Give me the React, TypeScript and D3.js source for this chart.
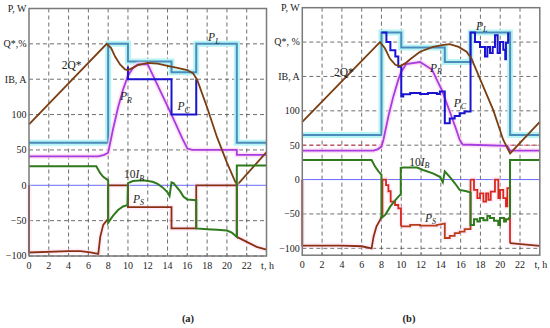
import React from 'react';
import * as d3 from 'd3';

type P = [number, number];

// ---------- shared axis data ----------
const HOURS = [0, 2, 4, 6, 8, 10, 12, 14, 16, 18, 20, 22];
const GRID_HOURS = [2, 4, 6, 8, 10, 12, 14, 16, 18, 20, 22];
const Y_GRID = [-100, -50, 0, 50, 100, 150, 200];
const Y_LABEL_VALUES = [-100, -50, 0, 50, 100, 150, 200, 250];
const Y_LABELS_A = ['−100', '−50', '0', '50', '100', 'IB, A', 'Q*,%', 'P, W'];
const Y_LABELS_B = ['−100', '−50', '0', '50', '100', 'IB, A', 'Q*, %', 'P, W'];

// ---------- panel (a) ----------
const PL_A: P[] = [[0, 60], [8, 60], [8, 200], [10, 200], [10, 175], [14.4, 175], [14.4, 160], [16.9, 160], [16.9, 200], [21, 200], [21, 60], [24, 60]];
const PC_A: P[] = [[10, 168], [10, 150], [14.4, 150], [14.4, 100], [16.9, 100], [16.9, 150]];
const PR_A: P[] = [[0, 41], [7, 41], [7.6, 43], [8, 46], [8.5, 80], [9, 110], [9.5, 135], [10, 155], [10.5, 166], [11, 171], [12, 171], [14.4, 100], [15.5, 66], [16, 52], [16.5, 50], [21, 50], [21, 43], [24, 43]];
const Q_A: P[] = [[0, 86], [7.85, 200], [8.3, 194], [8.7, 182], [9.2, 171], [9.7, 164], [10, 163], [10.5, 166], [11, 170], [12, 173], [13, 172], [14, 169], [15, 166], [16, 163], [16.6, 158], [17, 149], [18, 110], [19, 68], [20, 32], [21, 0], [24, 47]];
const IB_A: P[] = [[0, 27], [6.8, 27], [7, 22], [7.2, 17], [7.5, 12], [7.9, 8], [8, 7], [8, -53], [8.5, -43], [9, -35], [9.5, -30], [9.95, -28], [10, 3], [10.5, 6], [11.5, 7], [12.5, 5], [13, 2], [13.5, -3], [14, -10], [14.2, -15], [14.4, 4], [14.6, 3], [15.3, -9], [15.6, -16], [16, -20], [16.9, -21], [16.9, -61], [18, -62], [19, -63], [20, -64], [20.5, -67], [21, -73], [21, 28], [24, 28]];
const PS_A: P[] = [[0, 0], [0, -95], [4, -93], [5.2, -93], [6.2, -95], [7, -97], [7.2, -73], [7.5, -56], [7.9, -49], [8, -48], [8, 0], [10, 0], [10, -31], [14.4, -31], [14.4, -61], [16.9, -61], [16.9, 0], [21, 0], [21, -73], [22, -80], [23, -87], [24, -91]];

// ---------- panel (b) ----------
const PL_B: P[] = [[0, 65], [8, 65], [8, 214], [10, 214], [10, 192], [14.4, 192], [14.4, 171], [17, 171], [17, 214], [21, 214], [21, 65], [24, 65]];
const PC_B: P[] = [[8, 214], [8.5, 214], [8.5, 200], [8.9, 200], [8.9, 188], [9.4, 188], [9.4, 179], [9.7, 179], [9.7, 164], [10, 164], [10, 121], [10.2, 121], [10.2, 124], [10.9, 124], [10.9, 126], [11.9, 126], [11.9, 124.6], [12.7, 124.6], [12.7, 126], [13.6, 126], [13.6, 124.6], [13.9, 124.6], [13.9, 128], [14.4, 128], [14.4, 82], [14.9, 82], [14.9, 89], [15.4, 89], [15.4, 92.6], [15.9, 92.6], [15.9, 96.5], [16.4, 96.5], [16.4, 99], [17, 99], [17, 214], [17.45, 214], [17.45, 200], [17.96, 200], [17.96, 193], [18.46, 193], [18.46, 179], [18.7, 179], [18.7, 193], [18.97, 193], [18.97, 184], [19.24, 184], [19.24, 193], [19.47, 193], [19.47, 210], [19.74, 210], [19.74, 184], [19.98, 184], [19.98, 200], [20.31, 200], [20.31, 189], [20.51, 189], [20.51, 175], [20.58, 175], [20.58, 199], [20.8, 199], [20.8, 214]];
const PR_B: P[] = [[0, 42], [7.2, 42], [7.6, 44], [8, 48], [8.2, 58], [8.7, 92], [9.2, 121], [9.7, 145], [10, 157], [10.5, 168], [11.9, 171], [13.1, 160], [14.1, 130], [15, 95], [15.5, 75], [15.9, 58], [16.2, 51], [20.7, 49], [21, 42], [24, 42]];
const Q_B: P[] = [[0, 84], [7.85, 200], [8.35, 191], [8.85, 176], [9.4, 167], [9.9, 165], [10.4, 169], [10.9, 175], [11.9, 186], [13.2, 193], [14.3, 196], [14.9, 197], [15.8, 193], [16.6, 186], [17.1, 176], [18, 145], [19.3, 101], [20.3, 58], [21, 38], [24, 84]];
const IB_B: P[] = [[0, 28.5], [7, 28.5], [7.35, 19], [7.7, 12], [8, 7], [8, -56], [8.4, -51], [8.9, -39], [9.4, -30], [9.9, -22], [9.95, -22], [9.95, 17], [10.2, 17.5], [11.6, 17.5], [12.2, 14], [13.2, 9], [13.9, 4], [14.2, -4], [14.4, 12], [14.9, 4], [15.4, -5], [15.9, -15], [16.6, -17], [17, -19], [17, -66], [17.35, -66], [17.35, -57.6], [17.69, -57.6], [17.69, -61], [17.96, -61], [17.96, -56], [18.3, -56], [18.3, -59], [18.7, -59], [18.7, -53], [18.97, -53], [18.97, -56], [19.37, -56], [19.37, -60], [19.81, -60], [19.81, -66], [19.98, -66], [19.98, -56], [20.39, -56], [20.39, -61], [20.58, -61], [20.58, -57.6], [20.82, -57.6], [20.99, -54], [20.99, 28.6], [24, 28.6]];
const PS_B_START: P[] = [[0, 0], [0, -96], [4, -96], [6, -97], [7, -100], [7.2, -83], [7.5, -68], [7.85, -59], [8.1, -51]];
const PS_B_RISE: P[] = [[8.1, -51], [8.1, 0], [8.46, 0], [8.46, -8], [8.7, -8], [8.7, -17], [8.93, -17], [8.93, -32], [9.37, -32], [9.37, -37], [9.7, -37], [9.7, -42], [9.97, -42], [9.97, -68]];
const PS_B_MID: P[] = [[9.97, -68], [10.9, -68], [10.9, -66], [11.9, -66], [11.9, -67], [13.6, -67], [13.6, -66], [14.4, -64], [14.4, -85], [14.9, -85], [14.9, -82], [15.4, -82], [15.4, -78], [15.9, -78], [15.9, -75.6], [16.4, -75.6], [16.4, -72], [17, -72], [17, 0]];
const PS_B_EVE: P[] = [[17, 0], [17.35, 0], [17.35, -15], [17.69, -15], [17.69, -27], [17.96, -27], [17.96, -20], [18.3, -20], [18.3, -32], [18.57, -32], [18.57, -20], [18.8, -20], [18.8, -29.5], [19.04, -29.5], [19.04, -17.4], [19.47, -17.4], [19.47, 0], [19.81, 0], [19.81, -27], [19.98, -27], [19.98, -15], [20.31, -15], [20.31, -27], [20.58, -27], [20.58, -39], [20.72, -39], [20.72, -12.5], [20.99, -12.5], [20.99, -92.5]];
const PS_B_END: P[] = [[20.99, -92.5], [24, -96.4]];
const LIMIT_B_1: P[] = [[0, 50], [8, 50]];
const LIMIT_B_2: P[] = [[21, 50], [24, 50]];

const SERIF = '"Liberation Serif", "DejaVu Serif", serif';

const C = {
  border: '#7a7a7a',
  grid: '#4a4a4a',
  pl: '#4a8cbc',
  plHalo: '#b8f4f4',
  pc: '#1a14d0',
  pr: '#a63de0',
  halo: '#ffd6f2',
  q: '#7a3e12',
  ib: '#2f7a1c',
  ps: '#8a3012',
  psRed: '#d8281c',
  zero: '#6a6aff',
};

type Lbl = { t: number; v: number; main: string; sub?: string; italicMain?: boolean; pre?: string };

type PanelProps = {
  left: number; right: number; top: number; bottom: number; yMin: number;
  yLabels: string[]; caption: string; captionX: number;
  pl: P[]; pc: P[]; pr: P[]; q: P[]; ib: P[];
  ps: { pts: P[]; color: string }[];
  limits?: P[][];
  labels: Lbl[];
};

function Panel(p: PanelProps) {
  const xs = d3.scaleLinear().domain([0, 24]).range([p.left, p.right]);
  const ys = d3.scaleLinear().domain([p.yMin, 250]).range([p.bottom, p.top]);
  const ln = d3.line<P>().x(d => xs(d[0])).y(d => ys(d[1]));
  const fs = 10;
  return (
    <g>
      {GRID_HOURS.map(h => (
        <line key={'v' + h} x1={xs(h)} x2={xs(h)} y1={p.top} y2={p.bottom} stroke={C.grid} strokeWidth={0.8} strokeDasharray="4,3" />
      ))}
      {Y_GRID.filter(v => v !== 0).map(v => (
        <line key={'h' + v} x1={p.left} x2={p.right} y1={ys(v)} y2={ys(v)} stroke={C.grid} strokeWidth={0.8} strokeDasharray="4,3" />
      ))}
      {(p.limits || []).map((l, i) => (
        <path key={'lim' + i} d={ln(l) || ''} fill="none" stroke="#e03040" strokeWidth={0.9} strokeDasharray="4,3" />
      ))}
      <line x1={p.left} x2={p.right} y1={ys(0)} y2={ys(0)} stroke={C.zero} strokeWidth={1} />
      <path d={ln(p.pl) || ''} fill="none" stroke={C.plHalo} strokeWidth={6} />
      <path d={ln(p.pl) || ''} fill="none" stroke={C.pl} strokeWidth={2} />
      <path d={ln(p.pr) || ''} fill="none" stroke={C.halo} strokeWidth={5} opacity={0.7} />
      <path d={ln(p.pr) || ''} fill="none" stroke={C.pr} strokeWidth={1.8} />
      <path d={ln(p.pc) || ''} fill="none" stroke={C.pc} strokeWidth={2} />
      <path d={ln(p.q) || ''} fill="none" stroke={C.q} strokeWidth={1.8} />
      {p.ps.map((s, i) => (
        <path key={'psh' + i} d={ln(s.pts) || ''} fill="none" stroke={C.halo} strokeWidth={5} opacity={0.45} />
      ))}
      {p.ps.map((s, i) => (
        <path key={'ps' + i} d={ln(s.pts) || ''} fill="none" stroke={s.color} strokeWidth={1.8} />
      ))}
      <path d={ln(p.ib) || ''} fill="none" stroke={C.ib} strokeWidth={2} />
      <rect x={p.left} y={p.top} width={p.right - p.left} height={p.bottom - p.top} fill="none" stroke={C.border} strokeWidth={1.5} />
      {HOURS.map(h => (
        <line key={'t' + h} x1={xs(h)} x2={xs(h)} y1={p.bottom} y2={p.bottom - 3} stroke={C.border} strokeWidth={1} />
      ))}
      {HOURS.map(h => (
        <text key={'xl' + h} x={xs(h)} y={p.bottom + 13} fontSize={fs} fontFamily={SERIF} textAnchor="middle" fill="#222">{h}</text>
      ))}
      <text x={xs(24) + 1} y={p.bottom + 13} fontSize={fs} fontFamily={SERIF} textAnchor="middle" fill="#222">t, h</text>
      {Y_LABEL_VALUES.map((v, i) => (
        <text key={'yl' + v} x={p.left - 2.5} y={ys(v) + 3.4} fontSize={fs} fontFamily={SERIF} textAnchor="end" fill="#222">{p.yLabels[i]}</text>
      ))}
      {p.labels.map((l, i) => (
        <text key={'sl' + i} x={xs(l.t)} y={ys(l.v)} fontSize={11.5} fontFamily={SERIF} fill="#222">
          {l.pre ? <tspan>{l.pre}</tspan> : null}
          <tspan fontStyle={l.italicMain ? 'italic' : 'normal'}>{l.main}</tspan>
          {l.sub ? <tspan fontSize={8} fontStyle="italic" dy={2.5}>{l.sub}</tspan> : null}
        </text>
      ))}
      <text x={p.captionX} y={322} fontSize={10.5} fontFamily={SERIF} fontWeight="bold" textAnchor="middle" fill="#222">{p.caption}</text>
    </g>
  );
}

const LABELS_A: Lbl[] = [
  { t: 3.3, v: 165, main: '2Q*' },
  { t: 9.2, v: 120, main: 'P', sub: 'R', italicMain: true },
  { t: 15.0, v: 106, main: 'P', sub: 'C', italicMain: true },
  { t: 18.1, v: 204, main: 'P', sub: 'L', italicMain: true },
  { t: 9.6, v: 10, pre: '10', main: 'I', sub: 'B', italicMain: true },
  { t: 10.5, v: -25, main: 'P', sub: 'S', italicMain: true },
];
const LABELS_B: Lbl[] = [
  { t: 3.2, v: 151, main: '2Q*' },
  { t: 12.9, v: 157, main: 'P', sub: 'R', italicMain: true },
  { t: 15.3, v: 106, main: 'P', sub: 'C', italicMain: true },
  { t: 17.55, v: 218, main: 'P', sub: 'L', italicMain: true },
  { t: 10.8, v: 20, pre: '10', main: 'I', sub: 'B', italicMain: true },
  { t: 12.4, v: -61, main: 'P', sub: 'S', italicMain: true },
];

export default function App() {
  return (
    <svg width={550} height={328} style={{ position: 'absolute', left: 0, top: 0, background: '#fff' }}>
      <rect x={0} y={0} width={550} height={328} fill="#fff" />
      <Panel left={29} right={266.5} top={8.5} bottom={256} yMin={-100}
        yLabels={Y_LABELS_A} caption="(a)" captionX={188}
        pl={PL_A} pc={PC_A} pr={PR_A} q={Q_A} ib={IB_A}
        ps={[{ pts: PS_A, color: C.ps }]}
        labels={LABELS_A} />
      <Panel left={302.3} right={539.8} top={7.7} bottom={255.2} yMin={-110}
        yLabels={Y_LABELS_B} caption="(b)" captionX={409}
        pl={PL_B} pc={PC_B} pr={PR_B} q={Q_B} ib={IB_B}
        ps={[
          { pts: PS_B_START, color: C.ps },
          { pts: PS_B_RISE, color: C.psRed },
          { pts: PS_B_MID, color: '#b83c1a' },
          { pts: PS_B_EVE, color: C.psRed },
          { pts: PS_B_END, color: C.ps },
        ]}
        limits={[LIMIT_B_1, LIMIT_B_2]}
        labels={LABELS_B} />
    </svg>
  );
}
